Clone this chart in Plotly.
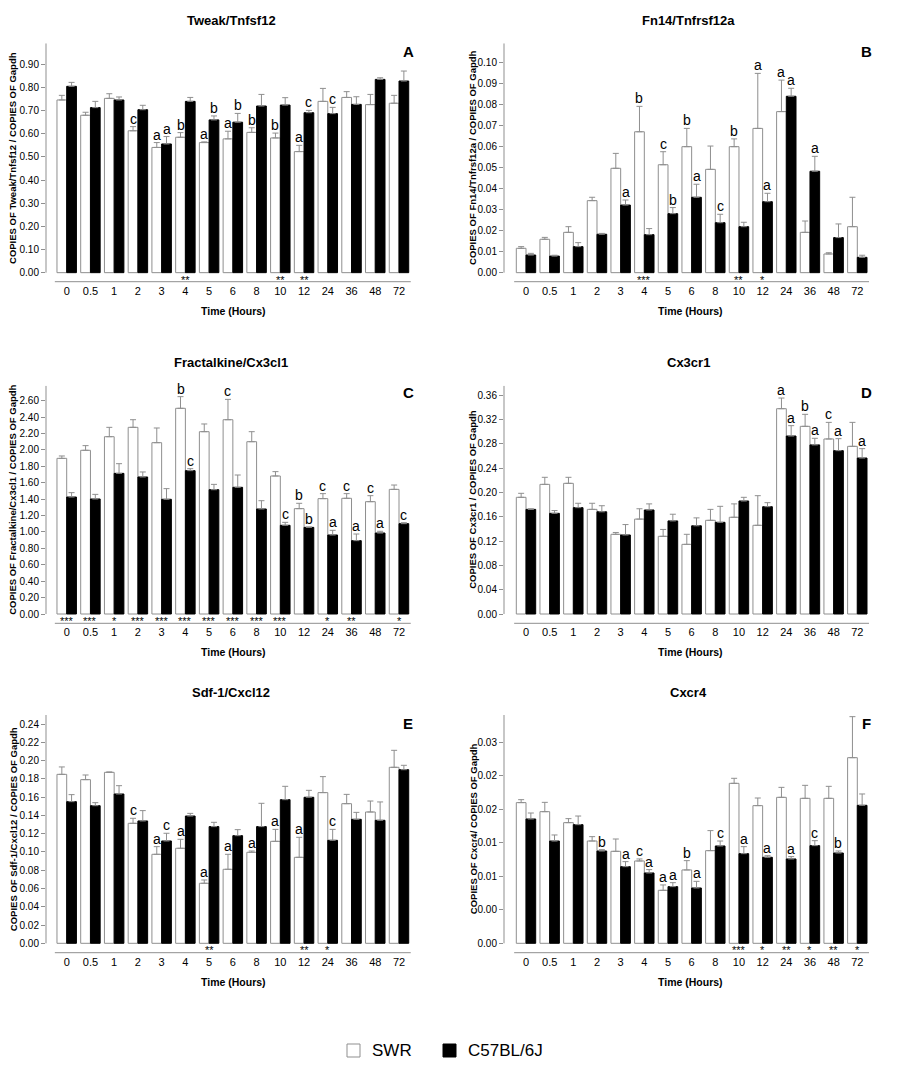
import plotly.graph_objects as go

categories = ["0", "0.5", "1", "2", "3", "4", "5", "6", "8", "10", "12", "24", "36", "48", "72"]

# ---- Panel A: Tweak/Tnfsf12
a_swr = [0.746, 0.680, 0.753, 0.613, 0.541, 0.585, 0.562, 0.578, 0.606, 0.582, 0.523, 0.740, 0.757, 0.726, 0.732]
a_swr_sem = [0.020, 0.013, 0.020, 0.018, 0.021, 0.020, 0.003, 0.033, 0.020, 0.021, 0.027, 0.056, 0.025, 0.044, 0.034]
a_c57 = [0.805, 0.713, 0.746, 0.704, 0.556, 0.740, 0.660, 0.650, 0.720, 0.724, 0.691, 0.687, 0.727, 0.835, 0.828]
a_c57_sem = [0.017, 0.027, 0.013, 0.019, 0.032, 0.017, 0.017, 0.038, 0.050, 0.032, 0.010, 0.027, 0.033, 0.007, 0.043]
a_swr_letters = ["", "", "", "c", "a", "b", "a", "a", "b", "b", "a", "", "", "", ""]
a_c57_letters = ["", "", "", "", "a", "", "b", "b", "", "", "c", "c", "", "", ""]
a_stars = ["", "", "", "", "", "**", "", "", "", "**", "**", "", "", "", ""]

# ---- Panel B: Fn14/Tnfrsf12a
b_swr = [0.0116, 0.0159, 0.0192, 0.0343, 0.0497, 0.0671, 0.0514, 0.0600, 0.0492, 0.0600, 0.0687, 0.0767, 0.0192, 0.0089, 0.0219]
b_swr_sem = [0.0008, 0.0009, 0.0027, 0.0016, 0.0071, 0.0121, 0.0062, 0.0087, 0.0111, 0.0037, 0.0262, 0.0150, 0.0054, 0.0006, 0.0140]
b_c57 = [0.0084, 0.0079, 0.0124, 0.0183, 0.0322, 0.0181, 0.0281, 0.0359, 0.0238, 0.0219, 0.0338, 0.0840, 0.0483, 0.0167, 0.0073]
b_c57_sem = [0.0008, 0.0004, 0.0019, 0.0004, 0.0024, 0.0029, 0.0029, 0.0062, 0.0040, 0.0021, 0.0040, 0.0038, 0.0071, 0.0065, 0.0010]
b_swr_letters = ["", "", "", "", "", "b", "c", "b", "", "b", "a", "a", "", "", ""]
b_c57_letters = ["", "", "", "", "a", "", "b", "a", "c", "", "a", "a", "a", "", ""]
b_stars = ["", "", "", "", "", "***", "", "", "", "**", "*", "", "", "", ""]

# ---- Panel C: Fractalkine/Cx3cl1
c_swr = [1.897, 1.995, 2.161, 2.275, 2.088, 2.507, 2.222, 2.368, 2.100, 1.682, 1.284, 1.406, 1.410, 1.369, 1.519]
c_swr_sem = [0.029, 0.057, 0.114, 0.093, 0.179, 0.142, 0.094, 0.248, 0.122, 0.053, 0.065, 0.061, 0.057, 0.073, 0.053]
c_c57 = [1.426, 1.402, 1.714, 1.670, 1.398, 1.747, 1.515, 1.544, 1.280, 1.081, 1.056, 0.963, 0.894, 0.987, 1.101]
c_c57_sem = [0.053, 0.056, 0.118, 0.061, 0.130, 0.024, 0.065, 0.150, 0.101, 0.036, 0.004, 0.057, 0.081, 0.021, 0.012]
c_swr_letters = ["", "", "", "", "", "b", "", "c", "", "", "b", "c", "c", "c", ""]
c_c57_letters = ["", "", "", "", "", "c", "", "", "", "c", "b", "a", "a", "a", "c"]
c_stars = ["***", "***", "*", "***", "***", "***", "***", "***", "***", "***", "", "*", "**", "", "*"]

# ---- Panel D: Cx3cr1
d_swr = [0.1918, 0.2131, 0.2148, 0.1720, 0.1310, 0.1560, 0.1277, 0.1145, 0.1540, 0.1590, 0.1458, 0.3375, 0.3085, 0.2877, 0.2756]
d_swr_sem = [0.0066, 0.0116, 0.0099, 0.0100, 0.0030, 0.0170, 0.0113, 0.0165, 0.0180, 0.0220, 0.0487, 0.0175, 0.0197, 0.0273, 0.0394]
d_c57 = [0.1720, 0.1655, 0.1748, 0.1680, 0.1299, 0.1710, 0.1530, 0.1450, 0.1507, 0.1858, 0.1764, 0.2926, 0.2780, 0.2685, 0.2564]
d_c57_sem = [0.0010, 0.0045, 0.0072, 0.0100, 0.0171, 0.0100, 0.0110, 0.0130, 0.0263, 0.0060, 0.0066, 0.0170, 0.0108, 0.0197, 0.0154]
d_swr_letters = ["", "", "", "", "", "", "", "", "", "", "", "a", "b", "c", ""]
d_c57_letters = ["", "", "", "", "", "", "", "", "", "", "", "a", "a", "a", "a"]
d_stars = [""] * 15

# ---- Panel E: Sdf-1/Cxcl12
e_swr = [0.1849, 0.1791, 0.1871, 0.1313, 0.0974, 0.1040, 0.0657, 0.0810, 0.0996, 0.1116, 0.0941, 0.1649, 0.1528, 0.1437, 0.1926]
e_swr_sem = [0.0081, 0.0051, 0.0004, 0.0055, 0.0084, 0.0098, 0.0036, 0.0164, 0.0014, 0.0131, 0.0219, 0.0175, 0.0102, 0.0120, 0.0186]
e_c57 = [0.1550, 0.1506, 0.1634, 0.1339, 0.1120, 0.1393, 0.1277, 0.1178, 0.1277, 0.1572, 0.1598, 0.1127, 0.1357, 0.1346, 0.1900]
e_c57_sem = [0.0077, 0.0033, 0.0091, 0.0113, 0.0084, 0.0029, 0.0047, 0.0066, 0.0255, 0.0146, 0.0076, 0.0120, 0.0076, 0.0201, 0.0048]
e_swr_letters = ["", "", "", "c", "a", "a", "a", "a", "a", "a", "a", "", "", "", ""]
e_c57_letters = ["", "", "", "", "c", "", "", "", "", "", "", "c", "", "", ""]
e_stars = ["", "", "", "", "", "", "**", "", "", "", "**", "*", "", "", ""]

# ---- Panel F: Cxcr4
f_swr = [0.02100, 0.01965, 0.01801, 0.01527, 0.01373, 0.01229, 0.00791, 0.01095, 0.01383, 0.02388, 0.02055, 0.02179, 0.02164, 0.02164, 0.02771]
f_swr_sem = [0.00044, 0.00139, 0.00060, 0.00065, 0.00184, 0.00030, 0.00080, 0.00139, 0.00299, 0.00075, 0.00114, 0.00149, 0.00194, 0.00179, 0.00612]
f_c57 = [0.01856, 0.01527, 0.01771, 0.01378, 0.01144, 0.01050, 0.00846, 0.00826, 0.01453, 0.01338, 0.01284, 0.01259, 0.01458, 0.01348, 0.02060]
f_c57_sem = [0.00089, 0.00090, 0.00129, 0.00020, 0.00075, 0.00050, 0.00059, 0.00099, 0.00074, 0.00105, 0.00024, 0.00035, 0.00074, 0.00030, 0.00169]
f_swr_letters = ["", "", "", "", "", "c", "a", "b", "", "", "", "", "", "", ""]
f_c57_letters = ["", "", "", "b", "a", "a", "a", "a", "c", "a", "a", "a", "c", "b", ""]
f_stars = ["", "", "", "", "", "", "", "", "", "***", "*", "**", "*", "**", "*"]
f_tick_vals = [0, 0.005, 0.010, 0.015, 0.020, 0.025, 0.030]
f_tick_text = ["0.00", "0.00", "0.01", "0.01", "0.02", "0.02", "0.03"]

series_names = ["SWR", "C57BL/6J"]

panels = [
    dict(title="Tweak/Tnfsf12", ytitle="COPIES OF Tweak/Tnfsf12 / COPIES OF Gapdh", tag="A",
         swr=a_swr, swr_sem=a_swr_sem, c57=a_c57, c57_sem=a_c57_sem,
         sl=a_swr_letters, cl=a_c57_letters, stars=a_stars, row=0, col=0, cal=(0.90, 64.33), dtick=0.1),
    dict(title="Fn14/Tnfrsf12a", ytitle="COPIES OF Fn14/Tnfrsf12a / COPIES OF Gapdh", tag="B",
         swr=b_swr, swr_sem=b_swr_sem, c57=b_c57, c57_sem=b_c57_sem,
         sl=b_swr_letters, cl=b_c57_letters, stars=b_stars, row=0, col=1, cal=(0.10, 62.67), dtick=0.01),
    dict(title="Fractalkine/Cx3cl1", ytitle="COPIES OF Fractalkine/Cx3cl1 / COPIES OF Gapdh", tag="C",
         swr=c_swr, swr_sem=c_swr_sem, c57=c_c57, c57_sem=c_c57_sem,
         sl=c_swr_letters, cl=c_c57_letters, stars=c_stars, row=1, col=0, cal=(2.60, 400.67), dtick=0.2),
    dict(title="Cx3cr1", ytitle="COPIES OF Cx3cr1 / COPIES OF Gapdh", tag="D",
         swr=d_swr, swr_sem=d_swr_sem, c57=d_c57, c57_sem=d_c57_sem,
         sl=d_swr_letters, cl=d_c57_letters, stars=d_stars, row=1, col=1, cal=(0.36, 395.0), dtick=0.04),
    dict(title="Sdf-1/Cxcl12", ytitle="COPIES OF Sdf-1/Cxcl12 / COPIES OF Gapdh", tag="E",
         swr=e_swr, swr_sem=e_swr_sem, c57=e_c57, c57_sem=e_c57_sem,
         sl=e_swr_letters, cl=e_c57_letters, stars=e_stars, row=2, col=0, cal=(0.24, 724.0), dtick=0.02),
    dict(title="Cxcr4", ytitle="COPIES OF Cxcr4/ COPIES OF Gapdh", tag="F",
         swr=f_swr, swr_sem=f_swr_sem, c57=f_c57, c57_sem=f_c57_sem,
         sl=f_swr_letters, cl=f_c57_letters, stars=f_stars, row=2, col=1, cal=(0.03, 742.33), dtick=None),
]

# ---- page geometry (pixels)
W, H = 900, 1074
rows_px = [dict(top=43.3, zero=272.67, axis=281.7, title=21, xtitle=311, tag=52),
           dict(top=385.7, zero=614.0, axis=623.3, title=362, xtitle=652, tag=393),
           dict(top=715.0, zero=943.3, axis=952.7, title=692, xtitle=982, tag=723)]
cols_px = [dict(yline=46.0, c0=66.7, c14=399.0, center=231, tag=408, ytitle=13),
           dict(yline=504.0, c0=526.0, c14=857.3, center=688, tag=866, ytitle=473)]

FONT = "Liberation Sans, Arial, Helvetica, sans-serif"
GREY = "#8f8f8f"


def px_x(p):
    return p / W


def px_y(p):
    return 1 - p / H


fig = go.Figure()
layout = dict(
    width=W, height=H, margin=dict(l=0, r=0, t=0, b=0),
    paper_bgcolor="white", plot_bgcolor="white",
    barmode="group", bargap=0.18, bargroupgap=0,
    showlegend=False, font=dict(family=FONT, color="black"),
)
annotations = []
shapes = []

for k, p in enumerate(panels):
    n = k + 1
    xa = "x" if n == 1 else f"x{n}"
    ya = "y" if n == 1 else f"y{n}"
    r = rows_px[p["row"]]
    c = cols_px[p["col"]]
    sp = (c["c14"] - c["c0"]) / 14.0
    x_lo = -(c["c0"] - c["yline"]) / sp
    x_hi = 14.5
    right_px = c["c0"] + 14.5 * sp
    val, tpx = p["cal"]
    ppu = (r["zero"] - tpx) / val
    y_lo = -(r["axis"] - r["zero"]) / ppu
    y_hi = (r["zero"] - r["top"]) / ppu

    for name, vals, sem, face, edge in [
        (series_names[0], p["swr"], p["swr_sem"], "white", GREY),
        (series_names[1], p["c57"], p["c57_sem"], "black", "black"),
    ]:
        fig.add_trace(go.Bar(
            x=categories, y=vals, name=name, xaxis=xa, yaxis=ya,
            marker=dict(color=face, line=dict(color=edge, width=1)),
            error_y=dict(type="data", symmetric=False, array=sem, arrayminus=[0] * len(sem),
                         color=GREY, thickness=1, width=3),
            showlegend=False, hoverinfo="x+y",
        ))

    xkey = "xaxis" if n == 1 else f"xaxis{n}"
    ykey = "yaxis" if n == 1 else f"yaxis{n}"
    layout[xkey] = dict(
        domain=[px_x(c["yline"]), px_x(right_px)], anchor=ya, type="category",
        categoryorder="array", categoryarray=categories, range=[x_lo, x_hi],
        showline=False, showgrid=False, zeroline=False, ticks="",
        tickfont=dict(size=11, family=FONT), fixedrange=True, ticklabelstandoff=1,
    )
    yax = dict(
        domain=[px_y(r["axis"]), px_y(r["top"])], anchor=xa, range=[y_lo, y_hi],
        showline=False, showgrid=False, zeroline=False,
        ticks="outside", ticklen=4, tickwidth=1, tickcolor=GREY,
        tickfont=dict(size=10, family=FONT), fixedrange=True,
    )
    if p["dtick"] is None:
        yax.update(tickmode="array", tickvals=f_tick_vals, ticktext=f_tick_text)
    else:
        yax.update(tick0=0, dtick=p["dtick"], tickformat=".2f")
    layout[ykey] = yax

    # axis lines (Prism-style offset axes)
    shapes.append(dict(type="line", xref=f"{xa} domain", yref=ya, x0=0, x1=0, y0=0, y1=y_hi,
                       line=dict(color=GREY, width=1)))
    shapes.append(dict(type="line", xref=xa, yref=f"{ya} domain", x0=-0.5, x1=14.5, y0=0, y1=0,
                       line=dict(color=GREY, width=1)))

    # letters above error bars
    for i in range(len(categories)):
        if p["sl"][i]:
            annotations.append(dict(x=i - 0.205, y=p["swr"][i] + p["swr_sem"][i], xref=xa, yref=ya,
                                    text=p["sl"][i], showarrow=False, xanchor="center",
                                    yanchor="bottom", yshift=-2, font=dict(size=14, family=FONT)))
        if p["cl"][i]:
            annotations.append(dict(x=i + 0.205, y=p["c57"][i] + p["c57_sem"][i], xref=xa, yref=ya,
                                    text=p["cl"][i], showarrow=False, xanchor="center",
                                    yanchor="bottom", yshift=-2, font=dict(size=14, family=FONT)))
        if p["stars"][i]:
            annotations.append(dict(x=i, y=0, xref=xa, yref=ya, text=p["stars"][i], showarrow=False,
                                    xanchor="center", yanchor="top", yshift=1,
                                    font=dict(size=11, family=FONT, color="black")))

    # titles, tags, axis titles
    annotations.append(dict(x=px_x(c["center"]), y=px_y(r["title"]), xref="paper", yref="paper",
                            text=f"<b>{p['title']}</b>", showarrow=False, xanchor="center",
                            yanchor="middle", font=dict(size=13, family=FONT)))
    annotations.append(dict(x=px_x(c["tag"]), y=px_y(r["tag"]), xref="paper", yref="paper",
                            text=f"<b>{p['tag']}</b>", showarrow=False, xanchor="center",
                            yanchor="middle", font=dict(size=15, family=FONT)))
    annotations.append(dict(x=px_x(c["center"] + 2), y=px_y(r["xtitle"]), xref="paper", yref="paper",
                            text="<b>Time (Hours)</b>", showarrow=False, xanchor="center",
                            yanchor="middle", font=dict(size=10.5, family=FONT)))
    annotations.append(dict(x=px_x(c["ytitle"]), y=px_y((r["top"] + r["zero"]) / 2), xref="paper",
                            yref="paper", text=f"<b>{p['ytitle']}</b>", showarrow=False,
                            textangle=-90, xanchor="center", yanchor="middle",
                            font=dict(size=9.5, family=FONT)))

# ---- legend (bottom centre)
legend_items = [(series_names[0], "white", GREY, 347), (series_names[1], "black", "black", 443)]
for name, face, edge, x0 in legend_items:
    shapes.append(dict(type="rect", xref="paper", yref="paper",
                       x0=px_x(x0), x1=px_x(x0 + 13), y0=px_y(1057), y1=px_y(1044),
                       fillcolor=face, line=dict(color=edge, width=1)))
    annotations.append(dict(x=px_x(x0 + 23), y=px_y(1050.5), xref="paper", yref="paper",
                            text=name, showarrow=False, xanchor="left", yanchor="middle",
                            font=dict(size=17, family=FONT)))

layout["annotations"] = annotations
layout["shapes"] = shapes
fig.update_layout(**layout)

fig.write_html("out.html", config={"displayModeBar": False},
               post_script="document.body.style.margin='0px';")
